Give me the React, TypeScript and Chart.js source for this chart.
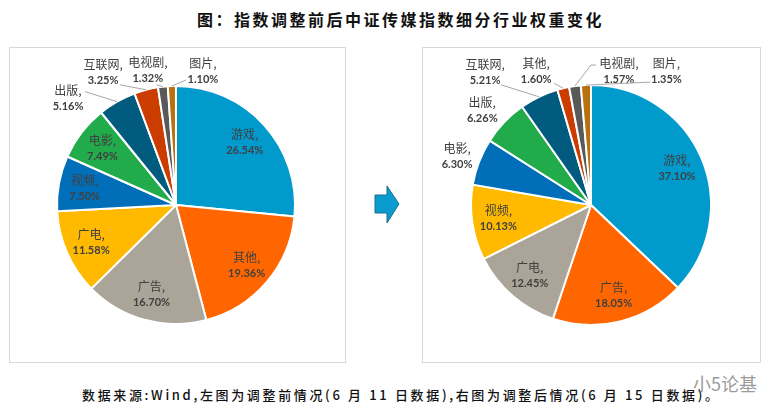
import React, { useEffect, useRef } from 'react';
import { Chart, registerables } from 'chart.js';

Chart.register(...registerables);

const titleText = '图：指数调整前后中证传媒指数细分行业权重变化';
const footerText = '数据来源:Wind,左图为调整前情况(6 月 11 日数据),右图为调整后情况(6 月 15 日数据)。';
const watermarkText = '小5论基';

const leftCategories = ['游戏', '其他', '广告', '广电', '视频', '电影', '出版', '互联网', '电视剧', '图片'];
const leftValues = [26.54, 19.36, 16.7, 11.58, 7.5, 7.49, 5.16, 3.25, 1.32, 1.1];

const rightCategories = ['游戏', '广告', '广电', '视频', '电影', '出版', '互联网', '其他', '电视剧', '图片'];
const rightValues = [37.1, 18.05, 12.45, 10.13, 6.3, 6.26, 5.21, 1.6, 1.57, 1.35];

const sliceColors = ['#009ACD', '#FF6600', '#ABA498', '#FFBA00', '#006EB8', '#22AB4B', '#005B7E', '#CB3C00', '#595959', '#B8710F'];

type OutsideLabel = { off: [number, number]; leader?: [number, number][] };

const leftOutside: Record<number, OutsideLabel> = {
  6: { off: [-49, -3], leader: [[17, -7]] },
  7: { off: [-43, -17], leader: [[17, 12]] },
  8: { off: [-15, -16], leader: [[9, 14]] },
  9: { off: [31, -15], leader: [[-17, 9]] },
};

const rightOutside: Record<number, OutsideLabel> = {
  4: { off: [-22, -5] },
  5: { off: [-22, -12] },
  6: { off: [-54, -24], leader: [[16, 12]] },
  7: { off: [-27, -17], leader: [[18, 12]] },
  8: { off: [44, -15], leader: [[-28, -6], [-23, -6]] },
  9: { off: [80.5, -14], leader: [[-16, 11]] },
};

const labelPlugin = {
  id: 'sliceLabels',
  afterDatasetsDraw(chart: any, _args: any, opts: any) {
    const ctx = chart.ctx as CanvasRenderingContext2D;
    const meta = chart.getDatasetMeta(0);
    const cats = chart.data.labels as string[];
    const vals = chart.data.datasets[0].data as number[];
    const outside: Record<number, OutsideLabel> = opts.outside || {};
    ctx.save();
    meta.data.forEach((arc: any, i: number) => {
      const p = arc.getProps(['x', 'y', 'startAngle', 'endAngle', 'outerRadius'], true);
      const mid = (p.startAngle + p.endAngle) / 2;
      const ex = p.x + Math.cos(mid) * p.outerRadius;
      const ey = p.y + Math.sin(mid) * p.outerRadius;
      let cx: number;
      let cy: number;
      const o = outside[i];
      if (o) {
        cx = ex + o.off[0];
        cy = ey + o.off[1];
        if (o.leader) {
          ctx.strokeStyle = '#A6A6A6';
          ctx.lineWidth = 1;
          ctx.beginPath();
          ctx.moveTo(ex, ey);
          o.leader.forEach((pt) => ctx.lineTo(cx + pt[0], cy + pt[1]));
          ctx.stroke();
        }
      } else {
        cx = p.x + Math.cos(mid) * p.outerRadius * 0.78;
        cy = p.y + Math.sin(mid) * p.outerRadius * 0.78;
      }
      ctx.fillStyle = '#404040';
      ctx.textAlign = 'center';
      ctx.textBaseline = 'middle';
      ctx.font = '12px "Noto Sans CJK SC"';
      ctx.fillText(cats[i] + ',', cx, cy - 8);
      ctx.font = 'bold 11px Lato';
      ctx.fillText(vals[i].toFixed(2) + '%', cx, cy + 8);
    });
    ctx.restore();
  },
};

type PieProps = {
  left: number;
  width: number;
  categories: string[];
  values: number[];
  outside: Record<number, OutsideLabel>;
  padding: { left: number; right: number; top: number; bottom: number };
};

function PieBox({ left, width, categories, values, outside, padding }: PieProps) {
  const ref = useRef<HTMLCanvasElement>(null);
  const innerW = width - 2;
  const innerH = 314;
  useEffect(() => {
    if (!ref.current) return;
    const chart = new Chart(ref.current, {
      type: 'pie',
      data: {
        labels: categories,
        datasets: [
          {
            data: values,
            backgroundColor: sliceColors,
            borderColor: '#FFFFFF',
            borderWidth: 2,
          },
        ],
      },
      options: {
        animation: false,
        responsive: false,
        devicePixelRatio: 1,
        layout: { padding },
        plugins: {
          legend: { display: false },
          tooltip: { enabled: false },
          sliceLabels: { outside },
        } as any,
      },
      plugins: [labelPlugin],
    });
    return () => chart.destroy();
  }, []);
  return (
    <div
      style={{
        position: 'absolute',
        left,
        top: 47,
        width,
        height: 316,
        boxSizing: 'border-box',
        border: '1px solid #D9D9D9',
        background: '#FFFFFF',
      }}
    >
      <canvas ref={ref} width={innerW} height={innerH} style={{ display: 'block', width: innerW, height: innerH }} />
    </div>
  );
}

export default function App() {
  return (
    <div
      style={{
        position: 'absolute',
        left: 0,
        top: 0,
        width: 784,
        height: 420,
        background: '#FFFFFF',
        overflow: 'hidden',
      }}
    >
      <div
        style={{
          position: 'absolute',
          left: 197,
          top: 9,
          whiteSpace: 'nowrap',
          fontFamily: '"Noto Sans CJK SC"',
          fontWeight: 700,
          fontSize: 16,
          lineHeight: '20px',
          letterSpacing: '2.5px',
          color: '#111111',
        }}
      >
        {titleText}
      </div>
      <PieBox
        left={9}
        width={337}
        categories={leftCategories}
        values={leftValues}
        outside={leftOutside}
        padding={{ left: 46, right: 49, top: 37, bottom: 37 }}
      />
      <PieBox
        left={422}
        width={339}
        categories={rightCategories}
        values={rightValues}
        outside={rightOutside}
        padding={{ left: 47, right: 48, top: 36, bottom: 36 }}
      />
      <svg
        style={{ position: 'absolute', left: 370, top: 182 }}
        width={34}
        height={46}
      >
        <polygon
          points="5,13 17,13 17,4 29,22 17,41 17,31 5,31"
          fill="#0A9BCF"
          stroke="#1C6F8E"
          strokeWidth={1}
        />
      </svg>
      <div
        style={{
          position: 'absolute',
          left: 82,
          top: 386,
          whiteSpace: 'nowrap',
          fontFamily: '"Noto Sans CJK SC"',
          fontWeight: 500,
          fontSize: 13,
          lineHeight: '18px',
          letterSpacing: '2.65px',
          color: '#111111',
        }}
      >
        {footerText}
      </div>
      <div
        style={{
          position: 'absolute',
          left: 693,
          top: 372,
          whiteSpace: 'nowrap',
          fontFamily: '"Noto Sans CJK SC"',
          fontSize: 18,
          lineHeight: '22px',
          color: 'rgba(120,120,120,0.75)',
        }}
      >
        {watermarkText}
      </div>
    </div>
  );
}
